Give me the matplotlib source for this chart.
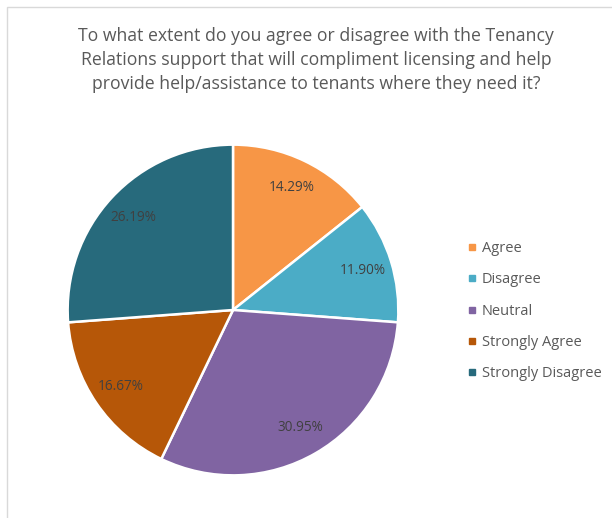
import matplotlib
matplotlib.use("Agg")
import matplotlib.pyplot as plt
from matplotlib.lines import Line2D
from matplotlib.patches import Rectangle

categories = ["Agree", "Disagree", "Neutral", "Strongly Agree", "Strongly Disagree"]
shares = [14.29, 11.90, 30.95, 16.67, 26.19]
colors = ["#F79646", "#4BACC6", "#8064A2", "#B65708", "#276A7C"]
title = ("To what extent do you agree or disagree with the Tenancy\n"
         "Relations support that will compliment licensing and help\n"
         "provide help/assistance to tenants where they need it?")

W, H = 612, 518
fig = plt.figure(figsize=(W / 100, H / 100), dpi=100)
plt.rcParams["font.family"] = ["Open Sans", "DejaVu Sans"]

# chart frame
fig.patches.append(Rectangle((7 / W, -0.1), 1.2, (H - 7) / H + 0.1,
                             transform=fig.transFigure, fill=False,
                             edgecolor="#D9D9D9", linewidth=1.0))

fig.text(316 / W, 1 - 60 / H, title, ha="center", va="center",
         fontsize=12.7, color="#595959", linespacing=1.43)

cx, cy, r = 233, 310, 167
ax = fig.add_axes([(cx - r) / W, (H - cy - r) / H, 2 * r / W, 2 * r / H])
wedges, _, autotexts = ax.pie(
    shares, colors=colors, startangle=90, counterclock=False,
    autopct=lambda p: f"{p:.2f}%", pctdistance=0.82,
    wedgeprops=dict(edgecolor="white", linewidth=1.8),
    textprops=dict(fontsize=9.8, color="#404040"))
ax.set_xlim(-1.01, 1.01)
ax.set_ylim(-1.01, 1.01)
ax.set_aspect("equal")
ax.axis("off")

handles = [Line2D([], [], marker="s", linestyle="none", markersize=5,
                  markerfacecolor=c, markeredgecolor=c) for c in colors]
leg = fig.legend(handles, categories, loc="upper left",
                 bbox_to_anchor=(460 / W, 1 - 234 / H), frameon=False,
                 fontsize=10.5, labelcolor="#595959", handlelength=0.6,
                 handletextpad=0.4, labelspacing=1.11, borderpad=0)

fig.savefig("out.png", dpi=100, facecolor="white")
